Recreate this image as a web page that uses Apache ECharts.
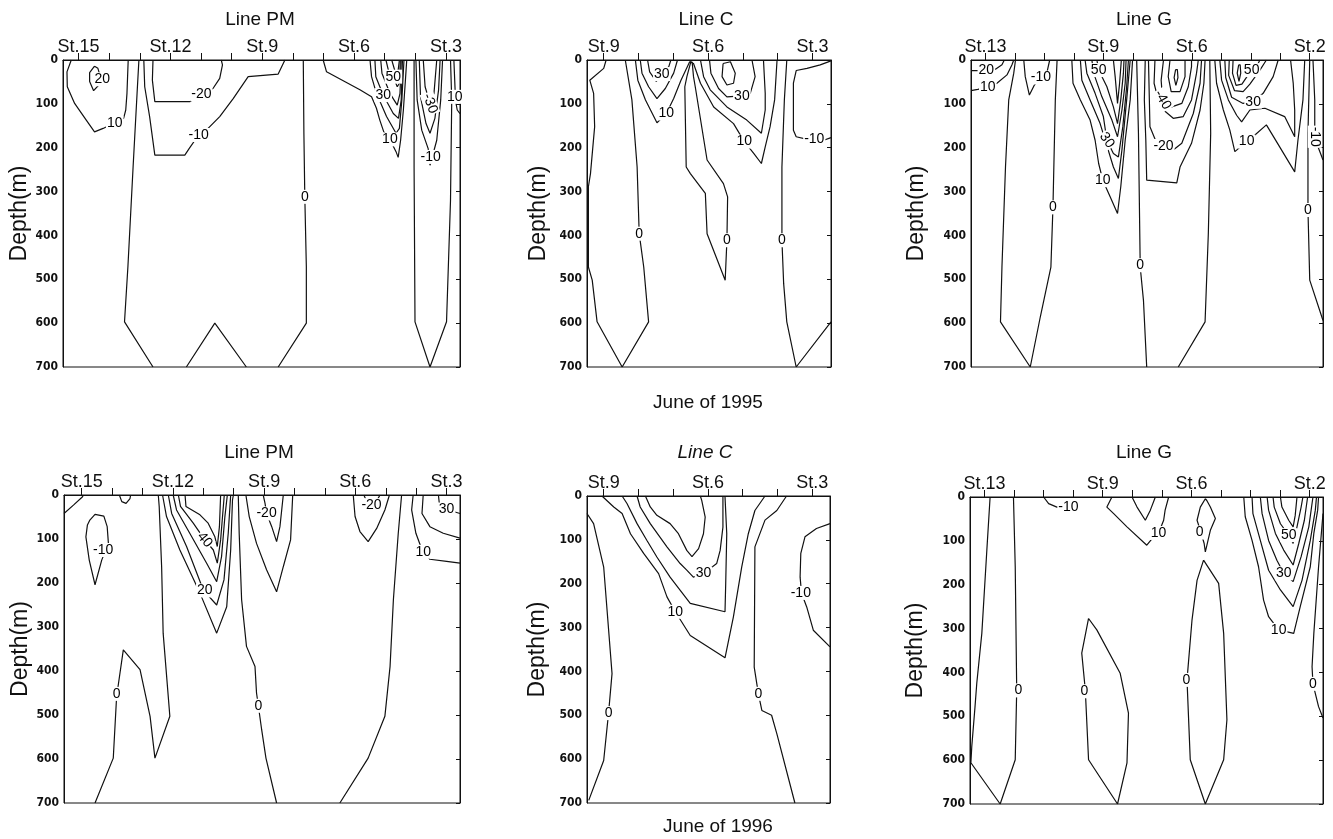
<!DOCTYPE html>
<html>
<head>
<meta charset="utf-8">
<title>Depth sections, June 1995 / 1996</title>
<script src="https://cdn.jsdelivr.net/npm/echarts@6/dist/echarts.min.js"></script>
<style>
  html, body { margin: 0; padding: 0; background: #fff; }
  #chart { width: 1333px; height: 839px; }
</style>
</head>
<body>
<div id="chart"></div>
<script>
// stations along each line (ticks) and the ones that get a name
const pmStations = [3, 4, 5, 6, 7, 8, 9, 10, 11, 12, 13, 14, 15]
const pmNamed = [15, 12, 9, 6, 3]
const cStations = [3, 4, 5, 6, 7, 8, 9]
const cNamed = [9, 6, 3]
const gStations = [2, 3, 4, 5, 6, 7, 8, 9, 10, 11, 12, 13]
const gNamed = [13, 9, 6, 2]
const depthTicks = [0, 100, 200, 300, 400, 500, 600, 700]

// contour lines: [station, depth(m)]
const linePM1995 = [
  [[14.48, 14], [14.64, 29], [14.64, 49], [14.51, 70], [14.34, 57], [14.29, 38], [14.37, 19], [14.48, 14]],
  [[15.24, 0], [15.38, 27], [15.37, 61], [15.13, 99], [14.75, 137], [14.48, 164], [14.2, 156], [13.82, 143], [13.53, 133], [13.46, 114], [13.42, 76], [13.38, 0]],
  [[13.03, 0], [13.09, 76], [13.22, 244], [13.39, 472], [13.5, 597], [12.57, 700]],
  [[11.48, 700], [10.55, 600], [9.52, 700]],
  [[8.48, 700], [7.56, 600], [7.56, 472], [7.61, 312], [7.64, 167], [7.66, 0]],
  [[12.87, 0], [12.84, 61], [12.68, 129], [12.51, 217], [11.53, 217], [11.39, 202], [11.08, 171], [10.77, 156], [10.39, 129], [9.95, 88], [9.46, 38], [8.48, 32], [8.26, 0]],
  [[12.57, 0], [12.59, 46], [12.51, 95], [11.37, 95], [10.99, 78], [10.61, 65], [10.39, 42], [10.3, 11], [10.34, 0]],
  [[7.01, 0], [6.9, 27], [5.81, 68], [5.43, 84], [5.27, 110], [5.16, 137], [5.03, 164], [4.83, 181], [4.63, 209], [4.56, 222], [4.48, 183], [4.39, 114], [4.33, 53], [4.28, 0]],
  [[5.48, 0], [5.43, 38], [5.27, 76], [4.94, 129], [4.63, 167], [4.52, 156], [4.44, 91], [4.37, 0]],
  [[5.32, 0], [5.29, 38], [5.05, 80], [4.72, 122], [4.55, 133], [4.46, 91], [4.42, 0]],
  [[5.13, 0], [5.09, 30], [4.83, 76], [4.59, 103], [4.5, 76], [4.46, 0]],
  [[4.96, 0], [4.88, 23], [4.72, 38], [4.59, 61], [4.52, 53], [4.49, 0]],
  [[4.77, 0], [4.63, 34], [4.56, 23], [4.52, 0]],
  [[4.04, 0], [4.04, 244], [4.01, 597], [3.52, 700], [2.98, 597], [2.85, 320], [2.81, 91], [2.85, 0]],
  [[3.98, 0], [3.94, 91], [3.79, 160], [3.58, 202], [3.52, 240], [3.3, 183], [3.17, 91], [3.11, 0]],
  [[3.87, 0], [3.83, 84], [3.65, 145], [3.52, 167], [3.36, 133], [3.24, 68], [3.19, 0]],
  [[3.74, 0], [3.68, 61], [3.52, 99], [3.39, 76], [3.3, 0]],
  [[2.74, 0], [2.7, 68], [2.71, 84], [2.63, 114], [2.54, 122]]
]
const linePM1995Labels = [
  [14.23, 44, '20'], [13.82, 143, '10'], [7.61, 312, '0'], [11.08, 171, '-10'], [10.99, 78, '-20'],
  [4.83, 181, '10'], [5.05, 80, '30'], [4.72, 38, '50'], [3.5, 221, '-10'], [3.52, 99, '-30', -70], [2.71, 84, '10']
]

const lineC1995 = [
  [[8.93, 0], [9.0, 19], [9.4, 46], [9.29, 76], [9.26, 152], [9.38, 259], [9.44, 289], [9.44, 472], [9.33, 502], [9.19, 597], [8.47, 700], [7.71, 597], [7.85, 472], [7.98, 396], [8.04, 244], [8.19, 91], [8.38, 0]],
  [[8.09, 0], [8.02, 46], [7.8, 91], [7.47, 143], [7.2, 122], [6.99, 88], [6.78, 46], [6.53, 4], [6.42, 8], [6.22, 53], [5.84, 107], [5.27, 145], [4.96, 186], [4.69, 213], [4.47, 236], [4.36, 198], [4.22, 152], [4.09, 91], [4.02, 0]],
  [[7.95, 0], [7.9, 30], [7.71, 61], [7.47, 88], [7.23, 65], [6.99, 30], [6.88, 0]],
  [[7.74, 0], [7.68, 27], [7.49, 49], [7.33, 32], [7.13, 15], [7.07, 0]],
  [[6.22, 0], [6.13, 38], [5.94, 68], [5.46, 107], [4.89, 137], [4.47, 167], [4.36, 114], [4.36, 76], [4.41, 0]],
  [[5.96, 0], [5.92, 30], [5.7, 65], [5.46, 84], [5.03, 82], [4.79, 76], [4.65, 38], [4.74, 0]],
  [[5.57, 8], [5.6, 38], [5.46, 57], [5.27, 53], [5.22, 30], [5.36, 4], [5.57, 8]],
  [[6.49, 2], [6.61, 38], [6.67, 61], [6.63, 244], [6.51, 259], [6.08, 304], [6.03, 396], [5.51, 502], [5.46, 411], [5.44, 312], [5.56, 282], [6.03, 228], [6.37, 61], [6.42, 38], [6.46, 4]],
  [[3.74, 0], [3.81, 91], [3.88, 244], [3.88, 411], [3.83, 510], [3.74, 597], [3.47, 700], [2.47, 597]],
  [[2.47, 2], [2.78, 11], [3.16, 19], [3.47, 24], [3.55, 53], [3.55, 160], [3.47, 175], [3.21, 180], [2.95, 181], [2.68, 183], [2.47, 177]]
]
const lineC1995Labels = [
  [7.98, 396, '0'], [7.2, 122, '10'], [7.33, 32, '30'], [5.03, 82, '30'], [4.96, 186, '10'],
  [5.46, 411, '0'], [3.88, 411, '0'], [2.95, 181, '-10']
]

const lineG1995 = [
  [[13.49, 24], [13.28, 24], [12.97, 24], [12.66, 21], [12.44, 11], [12.36, 0]],
  [[13.49, 70], [13.26, 67], [12.92, 62], [12.61, 53], [12.27, 34], [12.1, 11], [12.04, 0]],
  [[11.98, 0], [12.04, 30], [12.21, 91], [12.32, 244], [12.44, 472], [12.49, 597], [11.48, 700], [11.14, 586], [10.78, 472], [10.71, 335], [10.63, 91], [10.57, 0]],
  [[11.7, 0], [11.65, 38], [11.51, 80], [11.34, 57], [11.12, 40], [10.91, 27], [10.82, 0]],
  [[10.07, 0], [10.03, 53], [9.78, 91], [9.45, 137], [9.28, 183], [9.16, 236], [9.02, 274], [8.77, 312], [8.52, 350], [8.41, 289], [8.26, 183], [8.09, 91], [8.01, 0]],
  [[9.78, 0], [9.73, 46], [9.45, 91], [9.11, 145], [8.66, 244], [8.49, 270], [8.37, 205], [8.21, 91], [8.09, 0]],
  [[9.62, 0], [9.56, 30], [9.28, 76], [9.0, 129], [8.88, 183], [8.66, 213], [8.49, 221], [8.34, 152], [8.21, 61], [8.15, 0]],
  [[9.39, 0], [9.33, 30], [9.05, 84], [8.71, 137], [8.52, 175], [8.37, 114], [8.26, 53], [8.23, 0]],
  [[9.22, 0], [9.16, 23], [8.88, 61], [8.66, 107], [8.52, 145], [8.41, 91], [8.32, 30], [8.3, 0]],
  [[8.66, 0], [8.6, 38], [8.52, 99], [8.45, 53], [8.39, 0]],
  [[7.87, 0], [7.81, 167], [7.75, 472], [7.64, 548], [7.53, 700]],
  [[5.39, 0], [5.36, 167], [5.44, 396], [5.55, 597], [6.46, 700]],
  [[7.58, 0], [7.61, 91], [7.56, 183], [7.53, 274], [6.51, 280], [6.4, 244], [6.01, 190], [5.72, 114], [5.59, 53], [5.55, 0]],
  [[7.47, 0], [7.44, 91], [7.42, 152], [7.19, 190], [6.96, 197], [6.63, 205], [6.34, 190], [5.95, 122], [5.72, 53], [5.67, 0]],
  [[7.25, 0], [7.28, 53], [7.08, 107], [6.63, 133], [6.29, 129], [6.01, 91], [5.84, 30], [5.78, 0]],
  [[6.96, 0], [7.04, 46], [6.99, 91], [6.68, 107], [6.34, 99], [6.12, 61], [6.01, 15], [6.01, 0]],
  [[6.74, 0], [6.8, 38], [6.7, 72], [6.4, 72], [6.23, 38], [6.23, 0]],
  [[6.55, 22], [6.6, 40], [6.54, 58], [6.47, 40], [6.49, 22], [6.55, 22]],
  [[5.22, 0], [5.16, 53], [4.93, 114], [4.71, 160], [4.54, 209], [4.35, 198], [4.14, 186], [3.86, 171], [3.47, 148], [3.02, 198], [2.51, 255], [2.4, 183], [2.23, 91], [2.17, 0]],
  [[5.05, 0], [4.99, 46], [4.76, 91], [4.48, 126], [4.31, 141], [4.03, 114], [3.52, 110], [2.85, 129], [2.51, 175], [2.51, 114], [2.56, 53], [2.65, 0]],
  [[4.88, 0], [4.85, 40], [4.65, 85], [4.26, 99], [3.92, 95], [3.58, 76], [3.24, 38], [3.07, 0]],
  [[4.73, 0], [4.75, 35], [4.55, 70], [4.26, 72], [4.03, 55], [3.69, 23], [3.47, 0]],
  [[4.6, 0], [4.62, 30], [4.5, 58], [4.3, 55], [4.1, 35], [3.97, 23], [3.75, 8], [3.69, 0]],
  [[4.41, 11], [4.46, 30], [4.4, 49], [4.34, 30], [4.36, 11], [4.41, 11]],
  [[2.0, 0], [2.06, 167], [2.06, 342], [2.0, 502], [1.55, 594]],
  [[1.89, 0], [1.83, 91], [1.83, 175], [1.72, 198], [1.55, 228]]
]
const lineG1995Labels = [
  [12.97, 24, '20'], [12.92, 62, '10'], [10.71, 336, '0'], [11.12, 40, '-10'], [9.02, 274, '10'],
  [8.88, 183, '30', -55], [9.16, 23, '50'], [7.75, 468, '0'], [6.96, 196, '-20'], [6.99, 91, '-40', -60],
  [4.14, 186, '10'], [3.92, 95, '30'], [3.97, 23, '50'], [2.06, 342, '0'], [1.83, 175, '-10', -90]
]

const linePM1996 = [
  [[15.58, 42], [15.27, 23], [14.97, 4], [14.95, 0]],
  [[13.76, 0], [13.68, 15], [13.54, 19], [13.41, 8], [13.39, 0]],
  [[14.73, 57], [14.56, 44], [14.27, 48], [14.16, 72], [14.12, 110], [14.34, 148], [14.56, 204], [14.75, 148], [14.86, 95], [14.81, 68], [14.73, 57]],
  [[14.56, 700], [13.96, 598], [13.85, 458], [13.63, 352], [13.08, 397], [12.75, 503], [12.59, 598], [12.1, 503], [12.32, 314], [12.37, 163], [12.45, 26], [12.48, 0]],
  [[12.34, 0], [12.21, 49], [11.77, 125], [11.11, 223], [10.56, 314], [10.23, 254], [10.1, 125], [10.04, 11], [10.01, 0]],
  [[12.15, 0], [12.04, 42], [11.55, 117], [11.0, 216], [10.56, 250], [10.32, 193], [10.18, 87], [10.1, 0]],
  [[11.99, 0], [11.88, 34], [11.38, 95], [10.89, 155], [10.56, 197], [10.4, 140], [10.29, 49], [10.21, 0]],
  [[11.82, 0], [11.75, 26], [11.33, 64], [10.95, 102], [10.67, 125], [10.54, 155], [10.43, 102], [10.36, 42], [10.31, 0]],
  [[11.6, 0], [11.57, 26], [11.11, 45], [10.84, 64], [10.62, 95], [10.54, 117], [10.47, 72], [10.43, 0]],
  [[9.85, 0], [9.82, 87], [9.74, 238], [9.58, 344], [9.3, 390], [9.25, 450], [9.19, 479], [9.08, 534], [8.94, 598], [8.59, 700]],
  [[9.6, 0], [9.49, 49], [9.25, 110], [8.92, 170], [8.59, 220], [8.37, 163], [8.13, 102], [8.06, 0]],
  [[9.03, 0], [8.97, 19], [8.92, 42], [8.75, 72], [8.59, 106], [8.48, 72], [8.37, 0]],
  [[6.07, 0], [6.01, 49], [5.85, 83], [5.58, 106], [5.3, 76], [5.03, 34], [4.88, 0]],
  [[5.72, 0], [5.63, 15], [5.47, 25], [5.28, 11], [5.19, 0]],
  [[4.48, 0], [4.59, 87], [4.75, 238], [4.86, 390], [5.03, 503], [5.58, 598], [6.51, 700]],
  [[4.1, 0], [4.15, 34], [4.01, 87], [3.85, 117], [3.77, 129], [3.55, 146], [3.0, 151], [2.56, 155]],
  [[3.77, 0], [3.81, 42], [3.55, 72], [3.11, 87], [2.56, 98]],
  [[3.27, 0], [3.24, 19], [3.0, 33], [2.56, 42]]
]
const linePM1996Labels = [
  [14.29, 125, '-10'], [13.85, 452, '0'], [10.95, 217, '20'], [10.95, 102, '40', -50], [9.19, 479, '0'],
  [8.92, 42, '-20'], [5.47, 23, '-20'], [3.77, 129, '10'], [3.0, 33, '30']
]

const lineC1996 = [
  [[9.48, 40], [9.29, 63], [9.0, 162], [8.76, 405], [8.86, 495], [9.0, 603], [9.43, 694]],
  [[9.05, 0], [8.71, 25], [8.47, 40], [8.23, 86], [7.85, 131], [7.42, 177], [7.18, 230], [6.94, 264], [6.51, 318], [5.51, 369], [5.27, 276], [5.03, 162], [4.84, 86], [4.65, 33], [4.36, 0]],
  [[8.47, 0], [8.33, 17], [8.04, 63], [7.76, 101], [7.47, 139], [7.09, 185], [6.51, 245], [5.51, 264], [5.49, 200], [5.46, 86], [5.51, 2]],
  [[8.04, 0], [7.95, 25], [7.66, 63], [7.18, 116], [6.8, 154], [6.61, 169], [6.42, 185], [6.13, 177], [5.75, 154], [5.65, 124], [5.57, 71], [5.57, 0]],
  [[7.8, 0], [7.66, 25], [7.47, 44], [7.09, 63], [6.85, 86], [6.61, 124], [6.46, 138], [6.27, 120], [6.13, 86], [6.08, 48], [6.18, 10], [6.22, 0]],
  [[3.74, 0], [4.02, 33], [4.36, 55], [4.65, 116], [4.67, 390], [4.55, 451], [4.45, 489], [4.17, 500], [4.02, 542], [3.5, 700]],
  [[2.49, 63], [2.88, 74], [3.21, 93], [3.33, 131], [3.35, 185], [3.31, 221], [3.16, 253], [2.97, 306], [2.49, 344]]
]
const lineC1996Labels = [
  [8.86, 495, '0'], [6.94, 264, '10'], [6.13, 177, '30'], [4.55, 451, '0'], [3.33, 221, '-10']
]

const lineG1996 = [
  [[12.81, 0], [12.92, 121], [13.09, 311], [13.26, 424], [13.32, 478], [13.43, 569], [13.46, 606], [12.47, 700], [11.96, 599], [11.91, 440], [11.96, 159], [12.02, 0]],
  [[11.0, 0], [10.83, 15], [10.55, 23], [10.16, 23]],
  [[8.69, 0], [8.86, 23], [8.63, 38], [8.18, 68], [7.51, 110], [7.28, 91], [7.11, 82], [6.94, 53], [6.89, 30], [6.77, 0]],
  [[8.01, 0], [7.84, 23], [7.56, 53], [7.39, 30], [7.22, 0]],
  [[5.53, 4], [5.7, 23], [5.81, 53], [5.7, 76], [5.57, 106], [5.53, 125], [5.36, 76], [5.19, 49], [5.36, 23], [5.48, 8], [5.53, 4]],
  [[5.59, 144], [5.81, 190], [5.98, 280], [6.15, 417], [6.04, 599], [5.53, 700], [4.91, 599], [4.8, 508], [4.91, 311], [5.08, 197], [5.59, 144]],
  [[9.48, 277], [9.71, 356], [9.59, 440], [9.48, 599], [8.5, 700], [8.18, 606], [8.13, 493], [8.41, 402], [9.2, 303], [9.48, 277]],
  [[4.23, 0], [4.18, 45], [3.95, 99], [3.73, 159], [3.56, 235], [3.39, 273], [3.05, 303], [2.54, 311], [2.32, 250], [1.98, 159], [1.86, 83], [1.73, 30], [1.7, 0]],
  [[3.95, 0], [3.92, 38], [3.67, 99], [3.39, 167], [2.99, 212], [2.56, 250], [2.26, 190], [1.98, 99], [1.81, 30], [1.77, 0]],
  [[3.67, 0], [3.61, 38], [3.39, 99], [3.11, 144], [2.88, 174], [2.56, 193], [2.29, 136], [2.03, 68], [1.89, 0]],
  [[3.44, 0], [3.39, 30], [3.16, 83], [2.88, 121], [2.56, 155], [2.37, 106], [2.18, 53], [2.07, 0]],
  [[3.24, 0], [3.2, 23], [2.99, 61], [2.71, 87], [2.56, 106], [2.43, 68], [2.29, 23], [2.23, 0]],
  [[2.99, 0], [2.94, 23], [2.71, 53], [2.56, 68], [2.49, 42], [2.43, 0]],
  [[1.55, 38], [1.7, 159], [1.86, 311], [1.92, 387], [1.89, 426], [1.7, 478], [1.55, 504]]
]
const lineG1996Labels = [
  [11.85, 441, '0'], [10.16, 23, '-10'], [7.11, 82, '10'], [5.72, 81, '0'], [6.17, 417, '0'],
  [9.62, 443, '0'], [3.05, 303, '10'], [2.88, 174, '30'], [2.71, 87, '50'], [1.89, 426, '0']
]

const FONT = '"Liberation Sans", Arial, sans-serif'
const NARROW = '"Liberation Sans Narrow", "DejaVu Sans Condensed", "Liberation Sans", sans-serif'

const panels = [
  { lines: linePM1995, marks: linePM1995Labels, ticks: pmStations, named: pmNamed, min: 2.54, max: 15.51, box: { left: 63, top: 60, width: 397, height: 307 }, gap: 31 },
  { lines: lineC1995, marks: lineC1995Labels, ticks: cStations, named: cNamed, min: 2.47, max: 9.48, box: { left: 587, top: 60, width: 244, height: 307 }, gap: 37 },
  { lines: lineG1995, marks: lineG1995Labels, ticks: gStations, named: gNamed, min: 1.55, max: 13.49, box: { left: 971, top: 60, width: 352, height: 307 }, gap: 43 },
  { lines: linePM1996, marks: linePM1996Labels, ticks: pmStations, named: pmNamed, min: 2.56, max: 15.58, box: { left: 64, top: 495, width: 396, height: 308 }, gap: 31 },
  { lines: lineC1996, marks: lineC1996Labels, ticks: cStations, named: cNamed, min: 2.49, max: 9.48, box: { left: 587, top: 496, width: 243, height: 307 }, gap: 38 },
  { lines: lineG1996, marks: lineG1996Labels, ticks: gStations, named: gNamed, min: 1.55, max: 13.49, box: { left: 970, top: 497, width: 353, height: 307 }, gap: 43 }
]

const titles = [
  ['Line PM', 260, 20, 'normal'], ['Line C', 706, 20, 'normal'], ['Line G', 1144, 20, 'normal'],
  ['June of 1995', 708, 403, 'normal'],
  ['Line PM', 259, 453, 'normal'], ['Line C', 705, 453, 'italic'], ['Line G', 1144, 453, 'normal'],
  ['June of 1996', 718, 827, 'normal']
]

const chart = echarts.init(document.getElementById('chart'))

const grid = panels.map(p => Object.assign({ show: true, borderColor: '#111', borderWidth: 1, backgroundColor: '#fff' }, p.box))

const xAxis = panels.map((p, i) => ({
  type: 'value',
  gridIndex: i,
  position: 'top',
  inverse: true,
  min: p.min,
  max: p.max,
  axisLine: { show: true, lineStyle: { color: '#111', width: 1 } },
  axisTick: { show: true, inside: false, length: 7, customValues: p.ticks, lineStyle: { color: '#111' } },
  axisLabel: { show: true, customValues: p.named, formatter: v => 'St.' + v, fontSize: 18, fontFamily: FONT, color: '#111', margin: 4 },
  splitLine: { show: false }
}))

const yAxis = []
panels.forEach((p, i) => {
  yAxis.push({
    type: 'value',
    gridIndex: i,
    position: 'left',
    inverse: true,
    min: 0,
    max: 700,
    interval: 100,
    name: 'Depth(m)',
    nameLocation: 'middle',
    nameGap: p.gap,
    nameTextStyle: { fontSize: 23, fontFamily: FONT, color: '#111' },
    axisLine: { show: true, lineStyle: { color: '#111' } },
    axisTick: { show: false },
    axisLabel: { fontSize: 12, fontWeight: 'bold', fontFamily: NARROW, color: '#111', margin: 5, customValues: depthTicks },
    splitLine: { show: false }
  })
  yAxis.push({
    type: 'value',
    gridIndex: i,
    position: 'right',
    inverse: true,
    min: 0,
    max: 700,
    interval: 100,
    axisLine: { show: true, lineStyle: { color: '#111' } },
    axisTick: { show: true, inside: true, length: 4, lineStyle: { color: '#111' } },
    axisLabel: { show: false },
    splitLine: { show: false }
  })
})

const series = []
panels.forEach((p, i) => {
  p.lines.forEach(line => {
    series.push({
      type: 'line',
      xAxisIndex: i,
      yAxisIndex: 2 * i,
      data: line,
      symbol: 'none',
      smooth: false,
      silent: true,
      z: 2,
      lineStyle: { color: '#111', width: 1.2 }
    })
  })
  // contour value labels, drawn over the lines with a white box
  series.push({
    type: 'scatter',
    xAxisIndex: i,
    yAxisIndex: 2 * i,
    symbolSize: 2,
    silent: true,
    z: 5,
    itemStyle: { color: 'rgba(255,255,255,0)' },
    labelLayout: { hideOverlap: false },
    label: {
      show: true,
      position: 'inside',
      color: '#000',
      opacity: 1,
      textBorderWidth: 0,
      textBorderColor: 'transparent',
      fontSize: 14,
      fontFamily: FONT,
      backgroundColor: '#fff',
      padding: [0, 1]
    },
    data: p.marks.map(m => ({
      value: [m[0], m[1]],
      label: { show: true, formatter: m[2], rotate: m[3] || 0 }
    }))
  })
})

const graphic = titles.map(t => ({
  type: 'text',
  x: t[1],
  y: t[2],
  style: {
    text: t[0],
    align: 'center',
    verticalAlign: 'middle',
    fill: '#111',
    font: t[3] + ' 19px ' + FONT
  }
}))

chart.setOption({
  animation: false,
  backgroundColor: '#fff',
  grid: grid,
  xAxis: xAxis,
  yAxis: yAxis,
  series: series,
  graphic: graphic
})
</script>
</body>
</html>
